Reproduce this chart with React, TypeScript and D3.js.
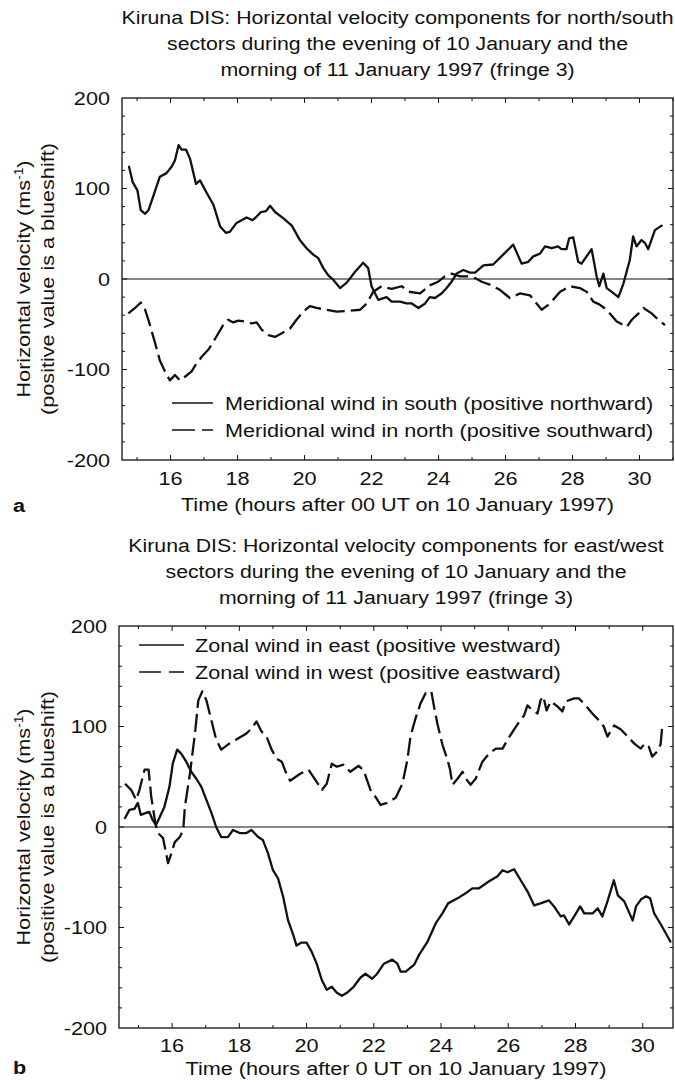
import React from "react";
import * as d3 from "d3";

// ---------- DATA (hours after 00 UT on 10 Jan 1997, velocity m/s) ----------
const titleA = [
  "Kiruna DIS: Horizontal velocity components for north/south",
  "sectors during the evening of 10 January and the",
  "morning of 11 January 1997 (fringe 3)",
];
const titleB = [
  "Kiruna DIS: Horizontal velocity components for east/west",
  "sectors during the evening of 10 January and the",
  "morning of 11 January 1997 (fringe 3)",
];
const xLabelA = "Time (hours after 00 UT on 10 January 1997)";
const xLabelB = "Time (hours after 0 UT on 10 January 1997)";
const legendA = [
  "Meridional wind in south (positive northward)",
  "Meridional wind in north (positive southward)",
];
const legendB = [
  "Zonal wind in east (positive westward)",
  "Zonal wind in west (positive eastward)",
];
const xTickLabels = [16, 18, 20, 22, 24, 26, 28, 30];
const yTickLabels = [200, 100, 0, -100, -200];

const southA: [number, number][] = [
  [14.76,124],[14.87,107],[15.01,98],[15.11,76],[15.24,72],[15.34,76],[15.48,91],[15.68,113],[15.88,117],[16.03,124],
  [16.13,131],[16.24,148],[16.33,143],[16.46,143],[16.58,133],[16.76,105],[16.88,109],[17.08,95],[17.28,82],[17.48,58],
  [17.65,51],[17.77,52],[17.97,62],[18.27,68],[18.45,65],[18.57,69],[18.7,74],[18.85,75],[18.97,81],[19.12,74],
  [19.37,67],[19.62,59],[19.86,43],[20.06,34],[20.26,27],[20.41,23],[20.56,12],[20.71,4],[20.86,-1],[21.06,-10],
  [21.26,-4],[21.51,8],[21.75,18],[21.9,12],[22.0,-8],[22.2,-23],[22.45,-20],[22.6,-25],[22.85,-25],[23.05,-27],
  [23.2,-27],[23.4,-32],[23.6,-27],[23.74,-20],[23.89,-21],[24.09,-16],[24.24,-10],[24.39,-3],[24.54,6],[24.74,10],
  [24.94,7],[25.09,7],[25.34,15],[25.63,16],[25.93,27],[26.23,38],[26.48,17],[26.68,19],[26.83,25],[27.03,28],
  [27.18,36],[27.38,34],[27.57,36],[27.67,33],[27.82,33],[27.9,45],[28.02,46],[28.17,19],[28.27,17],[28.57,33],
  [28.72,3],[28.8,-8],[28.92,6],[29.02,-10],[29.2,-15],[29.37,-20],[29.52,-5],[29.71,21],[29.81,47],[29.91,36],
  [30.06,43],[30.16,40],[30.26,33],[30.46,54],[30.66,59],
];
const northA: [number, number][] = [
  [14.74,-38],[14.94,-32],[15.11,-26],[15.24,-34],[15.37,-49],[15.54,-71],[15.68,-90],[15.83,-102],[15.98,-112],[16.13,-106],
  [16.28,-112],[16.43,-108],[16.63,-102],[16.78,-93],[16.93,-86],[17.13,-78],[17.33,-66],[17.57,-51],[17.72,-45],[17.87,-48],
  [18.02,-46],[18.22,-47],[18.42,-49],[18.57,-48],[18.72,-56],[18.92,-62],[19.12,-64],[19.32,-60],[19.56,-55],[19.76,-45],
  [19.96,-36],[20.16,-30],[20.36,-32],[20.66,-34],[20.96,-36],[21.36,-35],[21.66,-34],[21.86,-27],[22.05,-14],[22.3,-8],
  [22.6,-11],[22.9,-8],[23.1,-14],[23.45,-16],[23.74,-7],[23.99,-3],[24.19,3],[24.39,6],[24.64,3],[24.89,3],
  [25.09,1],[25.29,-3],[25.58,-7],[25.83,-12],[26.13,-21],[26.43,-16],[26.73,-18],[27.08,-34],[27.33,-27],[27.63,-14],
  [27.92,-8],[28.22,-10],[28.42,-14],[28.62,-25],[28.8,-28],[29.02,-34],[29.32,-47],[29.62,-53],[29.77,-45],[29.97,-38],
  [30.12,-32],[30.36,-38],[30.56,-45],[30.76,-51],
];
const eastB: [number, number][] = [
  [14.6,9],[14.73,17],[14.88,18],[14.98,24],[15.07,12],[15.22,14],[15.32,15],[15.42,7],[15.52,2],[15.62,9],
  [15.77,20],[15.92,40],[16.02,63],[16.15,77],[16.27,73],[16.42,65],[16.57,55],[16.72,48],[16.87,40],[17.02,27],
  [17.17,14],[17.31,0],[17.46,-10],[17.66,-10],[17.81,-3],[18.01,-6],[18.21,-6],[18.36,-3],[18.56,-10],[18.7,-13],
  [18.85,-26],[19.0,-43],[19.15,-51],[19.3,-69],[19.45,-93],[19.6,-107],[19.7,-118],[19.85,-115],[20.0,-115],[20.15,-124],
  [20.3,-136],[20.45,-152],[20.6,-162],[20.75,-159],[20.9,-165],[21.05,-168],[21.2,-165],[21.4,-159],[21.6,-150],[21.75,-146],
  [21.95,-151],[22.1,-146],[22.3,-136],[22.55,-132],[22.7,-136],[22.8,-144],[22.95,-144],[23.2,-137],[23.35,-127],[23.6,-114],
  [23.84,-96],[24.04,-86],[24.21,-76],[24.49,-71],[24.73,-66],[24.93,-61],[25.13,-61],[25.43,-54],[25.68,-49],[25.83,-43],
  [25.98,-45],[26.17,-42],[26.37,-53],[26.57,-64],[26.77,-78],[26.96,-76],[27.21,-73],[27.36,-79],[27.56,-89],[27.66,-88],
  [27.81,-97],[27.96,-89],[28.14,-79],[28.26,-86],[28.51,-86],[28.66,-81],[28.8,-89],[28.96,-73],[29.14,-53],[29.26,-68],
  [29.45,-74],[29.7,-93],[29.8,-79],[29.95,-72],[30.1,-69],[30.22,-71],[30.34,-86],[30.54,-97],[30.69,-106],[30.82,-114],
];
const westB: [number, number][] = [
  [14.6,43],[14.78,37],[14.93,27],[15.03,37],[15.18,57],[15.3,57],[15.38,30],[15.5,4],[15.58,-6],[15.73,-11],
  [15.88,-36],[15.98,-26],[16.08,-15],[16.23,-10],[16.33,-3],[16.38,20],[16.53,53],[16.68,93],[16.78,126],[16.9,135],
  [17.02,126],[17.17,106],[17.31,87],[17.46,77],[17.66,82],[17.91,87],[18.21,93],[18.36,98],[18.51,105],[18.66,95],
  [18.81,90],[18.96,77],[19.11,68],[19.26,65],[19.4,53],[19.51,46],[19.81,53],[20.06,57],[20.26,47],[20.46,37],
  [20.6,43],[20.75,63],[20.9,60],[21.1,62],[21.3,55],[21.55,61],[21.7,56],[21.9,37],[22.05,30],[22.2,22],
  [22.4,24],[22.65,29],[22.85,43],[23.0,67],[23.09,90],[23.24,108],[23.39,123],[23.54,133],[23.71,135],[23.79,120],
  [23.89,103],[24.04,82],[24.19,67],[24.27,57],[24.34,42],[24.49,48],[24.64,55],[24.74,48],[24.88,42],[25.03,48],
  [25.23,65],[25.43,73],[25.63,78],[25.83,78],[25.98,87],[26.17,97],[26.35,106],[26.47,111],[26.57,121],[26.72,116],
  [26.87,113],[26.96,126],[27.04,130],[27.14,116],[27.26,125],[27.46,120],[27.61,115],[27.71,125],[27.96,128],[28.1,128],
  [28.3,121],[28.5,113],[28.7,106],[28.84,100],[28.95,90],[29.15,101],[29.35,97],[29.55,90],[29.75,83],[29.94,78],
  [30.06,83],[30.18,80],[30.28,70],[30.43,75],[30.53,82],[30.58,100],
];

// ---------- STYLE ----------
const FONT = "'Liberation Sans', Arial, Helvetica, sans-serif";
const FS = 19;
const SX = 1.14;
const INK = "#111";

function Txt(props: { x: number; y: number; anchor?: string; rot?: number; weight?: string; sx?: number; children: React.ReactNode }) {
  const { x, y, anchor = "start", rot = 0, weight = "normal", sx = SX, children } = props;
  return (
    <text
      transform={`translate(${x},${y}) rotate(${rot}) scale(${sx},1)`}
      textAnchor={anchor}
      fontFamily={FONT}
      fontSize={FS}
      fontWeight={weight}
      fill={INK}
    >
      {children}
    </text>
  );
}

type PanelCfg = {
  left: number; right: number; top: number; bottom: number;
  xDomain: [number, number];
  title: string[]; titleY: number;
  xLabel: string; letter: string; tickDy: number; xLabelDy: number; letterDy: number;
  solid: [number, number][]; dashed: [number, number][];
  legend: string[]; legX1: number; legX2: number; legTextX: number; legY: number; legDash: string;
};

function Panel({ c }: { c: PanelCfg }) {
  const x = d3.scaleLinear().domain(c.xDomain).range([c.left, c.right]);
  const y = d3.scaleLinear().domain([-200, 200]).range([c.bottom, c.top]);
  const line = d3.line<[number, number]>().x((d) => x(d[0])).y((d) => y(d[1])).curve(d3.curveLinear);
  const midX = (c.left + c.right) / 2;
  const midY = (c.top + c.bottom) / 2;
  const hourTicks = d3.range(Math.ceil(c.xDomain[0]), Math.floor(c.xDomain[1]) + 1);
  const vTicks = d3.range(-180, 200, 20);
  return (
    <g>
      {c.title.map((t, i) => (
        <Txt key={i} x={midX} y={c.titleY + i * 26} anchor="middle" sx={1.12}>{t}</Txt>
      ))}
      {/* ticks */}
      {hourTicks.map((h) => (
        <g key={"h" + h}>
          <line x1={x(h)} x2={x(h)} y1={c.bottom} y2={c.bottom - (h % 2 === 0 ? 5 : 3)} stroke={INK} strokeWidth={1} />
          <line x1={x(h)} x2={x(h)} y1={c.top} y2={c.top + (h % 2 === 0 ? 5 : 3)} stroke={INK} strokeWidth={1} />
        </g>
      ))}
      {vTicks.map((v) => (
        <g key={"v" + v}>
          <line x1={c.left} x2={c.left + (v % 100 === 0 ? 5 : 3)} y1={y(v)} y2={y(v)} stroke={INK} strokeWidth={1} />
          <line x1={c.right} x2={c.right - (v % 100 === 0 ? 5 : 3)} y1={y(v)} y2={y(v)} stroke={INK} strokeWidth={1} />
        </g>
      ))}
      {/* zero line */}
      <line x1={c.left} x2={c.right} y1={y(0)} y2={y(0)} stroke={INK} strokeWidth={1.1} />
      {/* data */}
      <path d={line(c.solid) || ""} fill="none" stroke={INK} strokeWidth={2.3} strokeLinejoin="round" strokeLinecap="round" />
      <path d={line(c.dashed) || ""} fill="none" stroke={INK} strokeWidth={2.3} strokeDasharray="18,6" strokeLinejoin="round" />
      {/* frame */}
      <rect x={c.left} y={c.top} width={c.right - c.left} height={c.bottom - c.top} fill="none" stroke={INK} strokeWidth={1.3} />
      {/* y tick labels */}
      {yTickLabels.map((v) => (
        <Txt key={"yl" + v} x={c.left - 12} y={y(v) + 6.8} anchor="end">{String(v)}</Txt>
      ))}
      {/* x tick labels */}
      {xTickLabels.map((h) => (
        <Txt key={"xl" + h} x={x(h)} y={c.bottom + c.tickDy} anchor="middle">{String(h)}</Txt>
      ))}
      <Txt x={midX} y={c.bottom + c.xLabelDy} anchor="middle">{c.xLabel}</Txt>
      <Txt x={13} y={c.bottom + c.letterDy} weight="bold">{c.letter}</Txt>
      {/* y axis label */}
      <text transform={`translate(30,${midY}) rotate(-90) scale(${SX},1)`} textAnchor="middle" fontFamily={FONT} fontSize={FS} fill={INK}>
        Horizontal velocity (ms<tspan fontSize={12} dy={-7}>-1</tspan><tspan dy={7}>)</tspan>
      </text>
      <Txt x={54} y={midY} anchor="middle" rot={-90}>(positive value is a blueshift)</Txt>
      {/* legend */}
      {c.legend.map((t, i) => (
        <g key={"lg" + i}>
          <line x1={c.legX1} x2={c.legX2} y1={c.legY + i * 27} y2={c.legY + i * 27} stroke={INK} strokeWidth={1.5}
            strokeDasharray={i === 1 ? c.legDash : undefined} />
          <Txt x={c.legTextX} y={c.legY + i * 27 + 7}>{t}</Txt>
        </g>
      ))}
    </g>
  );
}

const panelA: PanelCfg = {
  left: 122, right: 673, top: 98, bottom: 460, xDomain: [14.55, 31.0],
  title: titleA, titleY: 24, xLabel: xLabelA, letter: "a", tickDy: 25, xLabelDy: 51, letterDy: 52,
  solid: southA, dashed: northA, legend: legendA,
  legX1: 172, legX2: 213, legTextX: 225, legY: 403, legDash: "23,7",
};
const panelB: PanelCfg = {
  left: 119, right: 673, top: 626, bottom: 1028, xDomain: [14.42, 30.9],
  title: titleB, titleY: 552, xLabel: xLabelB, letter: "b", tickDy: 24, xLabelDy: 47, letterDy: 46,
  solid: eastB, dashed: westB, legend: legendB,
  legX1: 139, legX2: 184, legTextX: 195, legY: 645, legDash: "22,8",
};

export default function App() {
  return (
    <svg width={675} height={1082} style={{ position: "absolute", left: 0, top: 0, display: "block", background: "#fff" }}>
      <rect x={0} y={0} width={675} height={1082} fill="#fff" />
      <Panel c={panelA} />
      <Panel c={panelB} />
    </svg>
  );
}
